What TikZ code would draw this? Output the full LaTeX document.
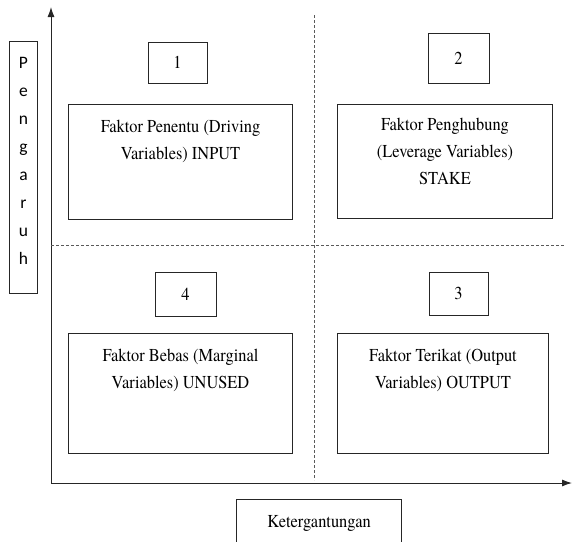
\documentclass[tikz,border=0pt]{standalone}
\usepackage{fontspec}
\setmainfont{texgyretermes-regular.otf}[FakeStretch=0.9]
\newfontfamily\calfont{Carlito}
\usetikzlibrary{arrows.meta}
\begin{document}
\begin{tikzpicture}[x=1pt,y=-1pt,
  boxline/.style={draw=black!85, line width=1pt},
  bigbox/.style={boxline, anchor=north west, inner sep=0pt,
    font=\fontsize{18.2}{27}\selectfont},
  numbox/.style={boxline, inner sep=0pt,
    font=\fontsize{18.2}{21}\selectfont},
  axisline/.style={draw=black!85, line width=1pt, -{Latex[length=10pt,width=7pt]}},
  quadline/.style={draw=black!65, line width=0.8pt, dash pattern=on 3pt off 2pt}
]
\useasboundingbox (0,0) rectangle (572,541);

% axes
\coordinate (O) at (51,483);
\coordinate (ytip) at (51,7);
\coordinate (xtip) at (572,483);
\draw[axisline] (O) -- (ytip);
\draw[axisline] (O) -- (xtip);

% quadrant dividers
\coordinate (vtop) at (314,15);
\coordinate (vbot) at (314,480);
\coordinate (hl) at (51,245);
\coordinate (hr) at (565,245);
\draw[quadline] (vtop) -- (vbot);
\draw[quadline] (hl) -- (hr);

% axis labels
\node[boxline, anchor=north west, inner sep=0pt] (pengaruh) at (9,41)
  {\parbox[c][252pt][t]{28pt}{\centering\calfont\fontsize{17.5}{28}\selectfont
   \vspace*{7pt}\strut P\\e\\n\\g\\a\\r\\u\\h}};
\node[bigbox] (ketergantungan) at (236,499)
  {\parbox[c][60pt][t]{165pt}{\centering\vspace*{9pt}\strut Ketergantungan}};

% number boxes
\node[numbox, minimum width=59pt, minimum height=41pt] (n1) at (177.5,62.5) {1};
\node[numbox, minimum width=61pt, minimum height=50pt] (n2) at (458.5,58) {2};
\node[numbox, minimum width=59pt, minimum height=43pt] (n3) at (458.5,293.5) {3};
\node[numbox, minimum width=61pt, minimum height=44pt] (n4) at (185.5,294) {4};

% quadrant boxes
\node[bigbox] (q1) at (68,104)
  {\parbox[c][115pt][t]{224pt}{\centering\vspace*{9pt}\strut Faktor Penentu (Driving\\Variables) INPUT}};
\node[bigbox] (q2) at (337,104)
  {\parbox[c][114pt][t]{215pt}{\centering\vspace*{7pt}\strut Faktor Penghubung\\(Leverage Variables)\\STAKE}};
\node[bigbox] (q4) at (68,333)
  {\parbox[c][120pt][t]{224pt}{\centering\vspace*{9pt}\strut Faktor Bebas (Marginal\\Variables) UNUSED}};
\node[bigbox] (q3) at (337,333)
  {\parbox[c][120pt][t]{211pt}{\centering\vspace*{9pt}\strut Faktor Terikat (Output\\Variables) OUTPUT}};
\end{tikzpicture}
\end{document}
